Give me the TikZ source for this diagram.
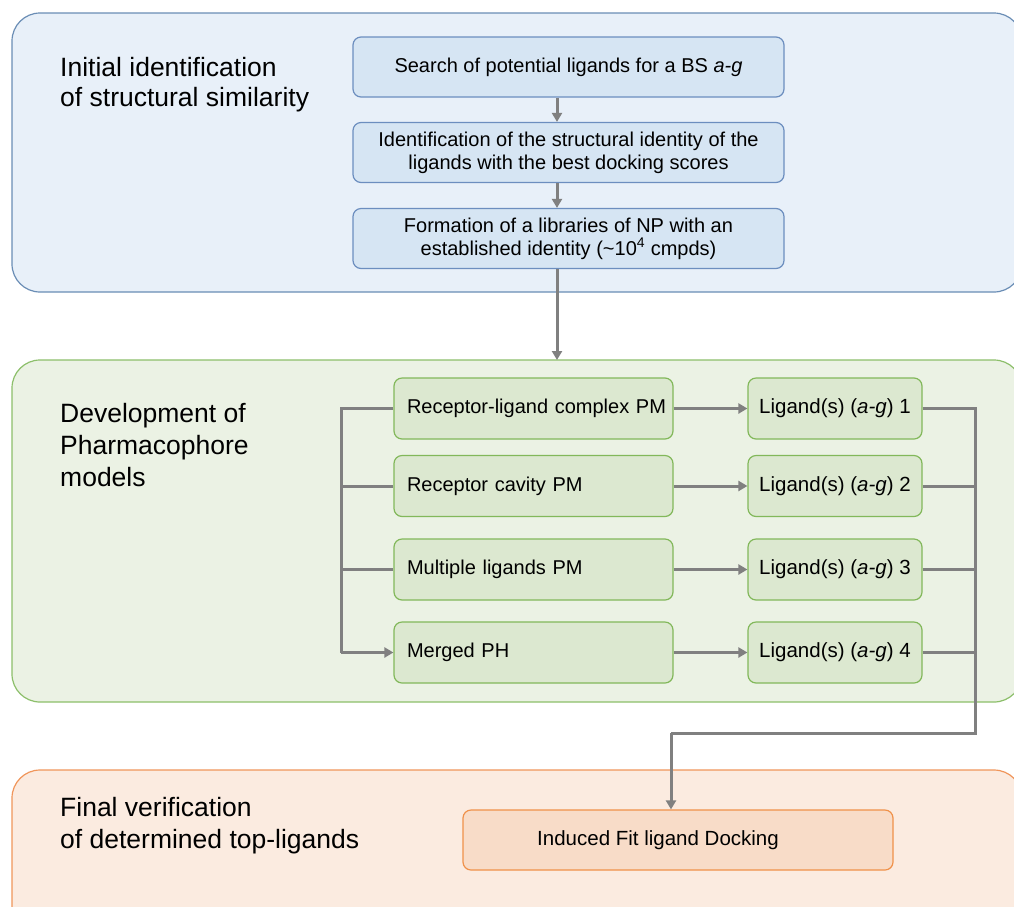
\documentclass[tikz,border=0pt]{standalone}
\usepackage{fontspec}
\setmainfont{Liberation Sans}
\usetikzlibrary{arrows.meta,positioning}
\definecolor{bpanel}{HTML}{E8F0F9}
\definecolor{bpanelb}{HTML}{6A8DB5}
\definecolor{bbox}{HTML}{D6E5F3}
\definecolor{bboxb}{HTML}{6C8EBF}
\definecolor{gpanel}{HTML}{EBF2E4}
\definecolor{gpanelb}{HTML}{8CBF6A}
\definecolor{gbox}{HTML}{DCE8D0}
\definecolor{gboxb}{HTML}{82B85A}
\definecolor{opanel}{HTML}{FBEBE0}
\definecolor{opanelb}{HTML}{F0955A}
\definecolor{obox}{HTML}{F8DCC8}
\definecolor{oboxb}{HTML}{F0914A}
\definecolor{conn}{HTML}{808080}
\tikzset{
  panel/.style={rounded corners=28pt, line width=1.2pt},
  bluebox/.style={draw=bboxb, fill=bbox, rounded corners=8pt, line width=1.2pt, minimum width=431pt, minimum height=60pt, align=center, font=\fontsize{20}{23}\selectfont, inner sep=0pt},
  greenbox/.style={draw=gboxb, fill=gbox, rounded corners=8pt, line width=1.2pt, minimum height=61pt, inner sep=0pt, font=\fontsize{20}{23}\selectfont},
  leftbox/.style={greenbox, minimum width=279pt, text width=270pt, align=left},
  rightbox/.style={greenbox, minimum width=174pt, align=center, font=\fontsize{20.5}{23}\selectfont},
  orangebox/.style={draw=oboxb, fill=obox, rounded corners=8pt, line width=1.2pt, minimum width=430pt, minimum height=60pt, inner sep=0pt, font=\fontsize{20.5}{23}\selectfont},
  title/.style={anchor=north west, align=left, inner sep=0pt},
  arr/.style={draw=conn, line width=3pt, -{Triangle[length=9pt,width=10pt]}},
  ln/.style={draw=conn, line width=3pt}
}
\newcommand{\lpad}{\hspace*{8.5pt}}
\begin{document}
\begin{tikzpicture}[x=1pt,y=-1pt]
\useasboundingbox (0,0) rectangle (1014,906);
\begin{scope}
\clip (0,0) rectangle (1014,906);
\draw[panel, fill=bpanel, draw=bpanelb] (12,13) rectangle (1022,292);
\draw[panel, fill=gpanel, draw=gpanelb] (12,360) rectangle (1022,702);
\draw[panel, fill=opanel, draw=opanelb] (12,770) rectangle (1022,940);
\end{scope}

\node[title, font=\fontsize{26.5}{30}\selectfont] (t1) at (60,57) {Initial identification\\of structural similarity};
\node[title, font=\fontsize{26.5}{32}\selectfont] (t2) at (60,403) {Development of\\Pharmacophore\\models};
\node[title, font=\fontsize{26.5}{32}\selectfont] (t3) at (60,797) {Final verification\\of determined top-ligands};

\node[bluebox] (b1) at (568.5,67) {Search of potential ligands for a BS \textit{a-g}};
\node[bluebox] (b2) at (568.5,152.5) {Identification of the structural identity of the\\ligands with the best docking scores};
\node[bluebox] (b3) at (568.5,238.5) {Formation of a libraries of NP with an\\established identity (\textasciitilde10\textsuperscript{4} cmpds)};

\draw[arr] (b1.south -| 557,0) -- (b2.north -| 557,0);
\draw[arr] (b2.south -| 557,0) -- (b3.north -| 557,0);
\coordinate (gtop) at (557,360);
\draw[arr] (b3.south -| 557,0) -- (gtop);

\node[leftbox] (l1) at (533.5,408.5) {\lpad Receptor-ligand complex PM};
\node[leftbox] (l2) at (533.5,486) {\lpad Receptor cavity PM};
\node[leftbox] (l3) at (533.5,569.5) {\lpad Multiple ligands PM};
\node[leftbox] (l4) at (533.5,652.5) {\lpad Merged PH};

\node[rightbox] (r1) at (835,408.5) {Ligand(s) (\textit{a-g}) 1};
\node[rightbox] (r2) at (835,486) {Ligand(s) (\textit{a-g}) 2};
\node[rightbox] (r3) at (835,569.5) {Ligand(s) (\textit{a-g}) 3};
\node[rightbox] (r4) at (835,652.5) {Ligand(s) (\textit{a-g}) 4};

\foreach \i in {1,2,3,4} {
  \draw[arr] (l\i.east) -- (r\i.west);
}
\coordinate (lb1) at (341,408.5);
\coordinate (lb4) at (341,652.5);
\draw[ln] (l1.west) -- (lb1) -- (lb4);
\draw[ln] (l2.west) -- (l2.west -| lb1);
\draw[ln] (l3.west) -- (l3.west -| lb1);
\draw[arr] (lb4) -- (l4.west);

\node[orangebox] (o1) at (678,840) {Induced Fit ligand Docking\hspace*{40pt}};

\coordinate (rb1) at (975,408.5);
\coordinate (rb5) at (975,733);
\coordinate (turn) at (671,733);
\draw[ln] (r1.east) -- (rb1) -- (rb5) -- (turn);
\draw[ln] (r2.east) -- (r2.east -| rb1);
\draw[ln] (r3.east) -- (r3.east -| rb1);
\draw[ln] (r4.east) -- (r4.east -| rb1);
\draw[arr] (turn) -- (turn |- o1.north);
\end{tikzpicture}
\end{document}
